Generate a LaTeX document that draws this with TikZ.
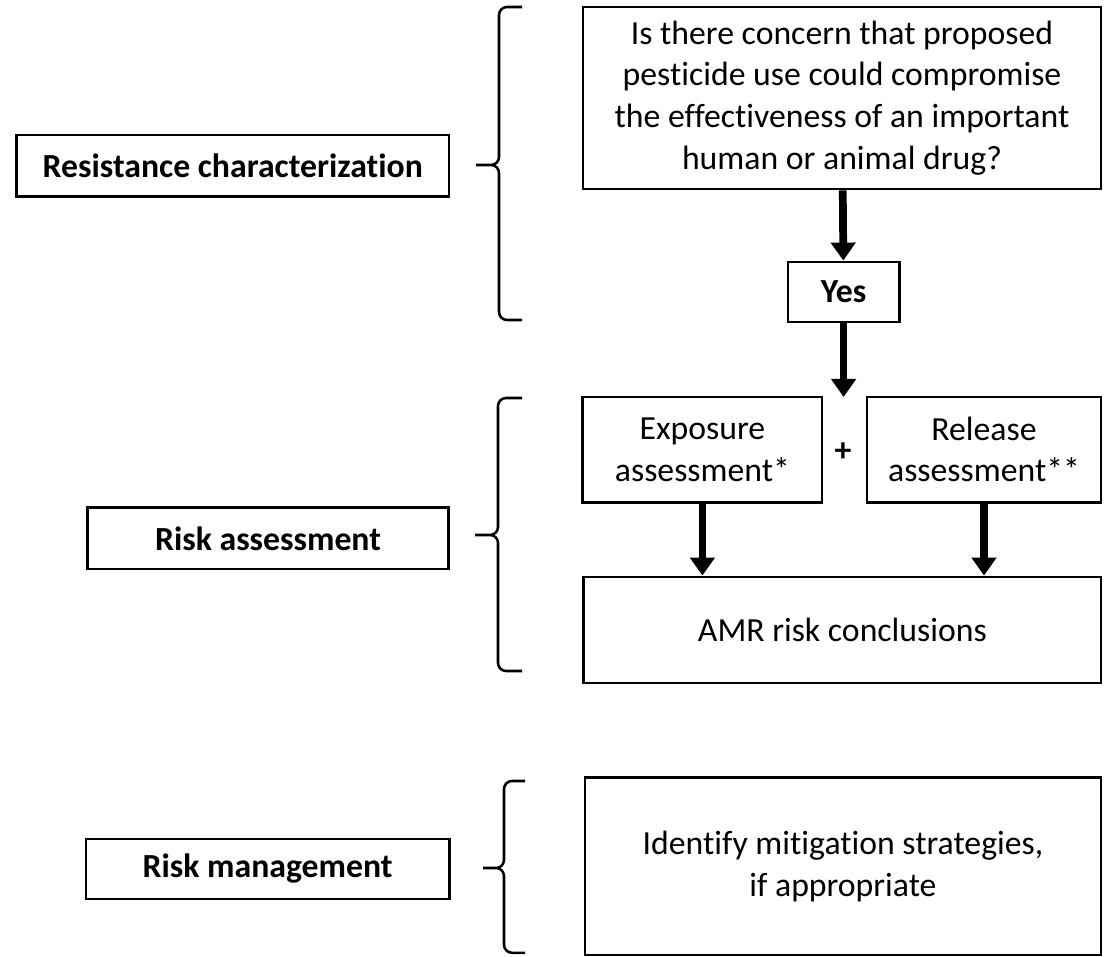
\documentclass[tikz,border=0pt]{standalone}
\usepackage{fontspec}
\setmainfont{Carlito}[Ligatures=NoCommon]
\usetikzlibrary{arrows.meta}

\begin{document}
\begin{tikzpicture}[
    box/.style={draw, line width=2pt, align=center, inner sep=0pt, font=\fontsize{24}{29.6}\selectfont},
    stage/.style={box, font=\fontsize{24}{29.6}\selectfont\bfseries},
    flow/.style={line width=5.5pt},
    bracket/.style={line width=1.8pt, rounded corners=0.2cm},
    >={Triangle[width=0.6cm,length=0.45cm]}
]
\useasboundingbox (0,0) rectangle (27.6,23.9);

\node[box, minimum width=12.95cm, minimum height=4.55cm] (concern) at (21.05,21.45) {Is there concern that proposed\\pesticide use could compromise\\the effectiveness of an important\\human or animal drug?};
\node[stage, minimum width=2.78cm, minimum height=1.5cm] (yes) at (21.09,16.6) {Yes};
\coordinate (join) at (21.09,13.975);
\node[box, minimum width=5.98cm, minimum height=2.63cm] (exposure) at (17.56,12.66) {Exposure\\assessment*};
\node[box, minimum width=5.85cm, minimum height=2.63cm] (release) at (24.6,12.66) {Release\\assessment**};
\node[font=\fontsize{24}{29.6}\selectfont\bfseries] (plus) at (21.075,12.6) {+};
\node[box, minimum width=12.93cm, minimum height=2.65cm] (amr) at (21.06,8.15) {AMR risk conclusions};
\node[box, minimum width=12.9cm, minimum height=4.43cm] (mitigation) at (21.075,2.24) {Identify mitigation strategies,\\if appropriate};

\node[stage, minimum width=10.81cm, minimum height=1.53cm] (resistance) at (5.82,19.76) {Resistance characterization};
\node[stage, minimum width=9.04cm, minimum height=1.53cm] (assessment) at (6.7,10.44) {Risk assessment};
\node[stage, minimum width=9.08cm, minimum height=1.5cm] (management) at (6.69,2.175) {Risk management};

\draw[->, flow] (concern) -- (yes);
\draw[->, flow] (yes) -- (join);
\draw[->, flow] (exposure.south) -- (exposure.south |- amr.north);
\draw[->, flow] (release.south) -- (release.south |- amr.north);

% braces
\draw[bracket] (13.05,23.725) -- (12.475,23.725) -- (12.475,19.775) -- (11.9,19.775)
    (11.9,19.775) -- (12.475,19.775) -- (12.475,15.9) -- (13.05,15.9);
\draw[bracket] (13.05,13.95) -- (12.45,13.95) -- (12.45,10.525) -- (11.875,10.525)
    (11.875,10.525) -- (12.45,10.525) -- (12.45,7.125) -- (13.05,7.125);
\draw[bracket] (13.125,4.375) -- (12.6,4.375) -- (12.6,2.2) -- (12.075,2.2)
    (12.075,2.2) -- (12.6,2.2) -- (12.6,0.08) -- (13.125,0.08);
\end{tikzpicture}
\end{document}
